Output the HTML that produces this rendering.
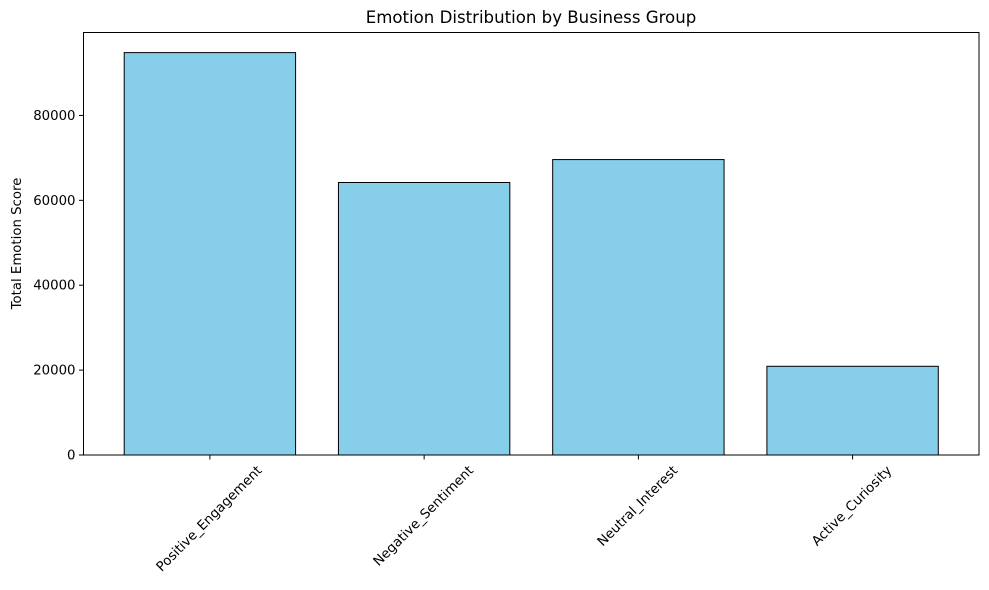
<!DOCTYPE html>
<html><head><meta charset="utf-8"><style>
html,body{margin:0;padding:0;background:#fff;}
svg{display:block;font-family:"DejaVu Sans","Liberation Sans",sans-serif;}
</style></head><body>
<svg id="chart" width="989" height="590" viewBox="0 0 989 590">
<text x="531" y="23" text-anchor="middle" font-size="16.6" fill="#000">Emotion Distribution by Business Group</text>
<text transform="translate(21,243.5) rotate(-90)" text-anchor="middle" font-size="13.3" fill="#000">Total Emotion Score</text>
<g id="bars"></g><g id="yticks"></g><g id="xticks"></g>
<rect x="83.5" y="32.5" width="895.5" height="422.5" fill="none" stroke="#000" stroke-width="1"/>
</svg>
<script>
const categories = ["Positive_Engagement","Negative_Sentiment","Neutral_Interest","Active_Curiosity"];
const values = [94800, 64200, 69600, 20900];
const yTickValues = [0, 20000, 40000, 60000, 80000];
const yTickLabels = ["0","20000","40000","60000","80000"];

const NS="http://www.w3.org/2000/svg";
const L=83.5,R=979,T=32.5,B=455;
const ymax=Math.max(...values)*1.05;
const xmin=-0.4-0.05*(categories.length-0.2), xmax=categories.length-0.6+0.05*(categories.length-0.2);
const xs=v=>L+(v-xmin)/(xmax-xmin)*(R-L);
const ys=v=>B-v/ymax*(B-T);
function mk(tag,attrs,parent){const e=document.createElementNS(NS,tag);for(const k in attrs)e.setAttribute(k,attrs[k]);parent.appendChild(e);return e;}
const gb=document.getElementById('bars'),gy=document.getElementById('yticks'),gx=document.getElementById('xticks');
values.forEach((v,i)=>{
  const x0=xs(i-0.4),x1=xs(i+0.4);
  const r=mk('rect',{x:x0,y:ys(v),width:x1-x0,height:B-ys(v),fill:'#87ceeb',stroke:'#000','stroke-width':1},gb);
  
  
});
yTickValues.forEach((v,i)=>{
  const y=ys(v);
  const t=mk('line',{x1:L-4.5,x2:L,y1:y,y2:y,stroke:'#000','stroke-width':1},gy);
  
  
  const tx=mk('text',{x:L-8,y:y+4.5,'text-anchor':'end','font-size':13.3,fill:'#000'},gy);
  tx.textContent=yTickLabels[i];
  
  
});
categories.forEach((c,i)=>{
  const x=xs(i);
  const t=mk('line',{x1:x,x2:x,y1:B,y2:B+4.5,stroke:'#000','stroke-width':1},gx);
  
  
  const tx=mk('text',{'text-anchor':'middle','font-size':13.3,fill:'#000'},gx);
  tx.textContent=c;
  
  
  const len=tx.getComputedTextLength();
  const cy=B+9+len*0.7071/2+4;
  tx.setAttribute('transform','translate('+(x-1)+','+cy+') rotate(-45)');
  tx.setAttribute('y',4.5);
});
</script>
</body></html>
